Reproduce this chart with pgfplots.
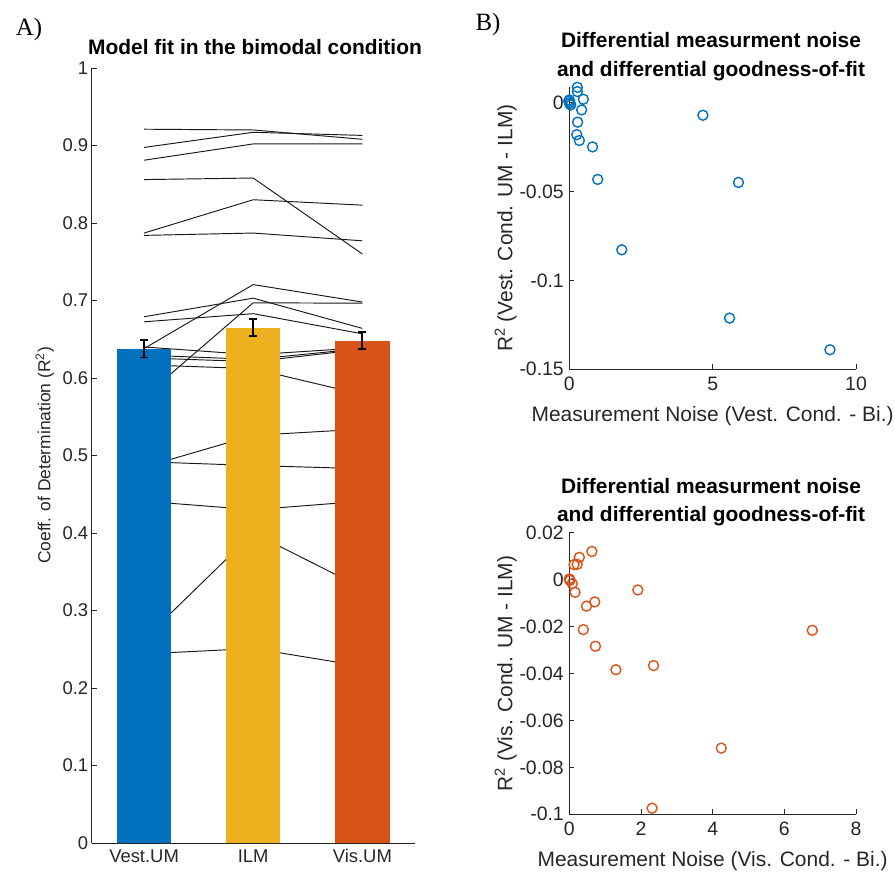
\documentclass[border=0pt]{standalone}
\usepackage{fontspec}
\setmainfont{Liberation Sans}
\newfontfamily\panelfont{Liberation Serif}
\usepackage{pgfplots}
\pgfplotsset{compat=1.18}

\definecolor{mblue}{rgb}{0,0.447,0.741}
\definecolor{myellow}{rgb}{0.929,0.694,0.125}
\definecolor{morange}{rgb}{0.85,0.325,0.098}
\definecolor{axgray}{rgb}{0.15,0.15,0.15}

\pgfplotsset{
  mlab/.style={
    scale only axis, anchor=south west,
    axis x line*=bottom, axis y line*=left,
    axis line style={axgray, line width=0.7bp},
    tick style={axgray, line width=0.7bp},
    tick align=inside, major tick length=5bp,
    label style={text=axgray},
  },
  scat/.style={mlab, clip=false,
    tick label style={font=\fontsize{19.5}{21}\selectfont, text=axgray},
    xticklabel style={yshift=-4bp},
    yticklabel style={xshift=-2bp},
    xlabel style={font=\fontsize{21}{23}\selectfont, at={(axis description cs:0.5,-0.165)}, anchor=center},
    ylabel style={font=\fontsize{21}{23}\selectfont, at={(axis description cs:-0.222,0.5)}, anchor=center},
  },
  subj/.style={black!90, line width=0.95bp, mark=none, forget plot},
}

\begin{document}
\begin{tikzpicture}[x=1bp,y=1bp]
\path[use as bounding box] (0,0) rectangle (895,872);

% ---------- A) bar chart with single-subject lines
\begin{axis}[mlab,
  at={(91.7bp,29bp)}, width=323bp, height=775bp,
  xmin=0.52, xmax=3.48, ymin=0, ymax=1,
  xtick={1,2,3}, xticklabels={Vest.UM,ILM,Vis.UM},
  xtick style={draw=none},
  ytick={0,0.1,0.2,0.3,0.4,0.5,0.6,0.7,0.8,0.9,1},
  yticklabels={0,0.1,0.2,0.3,0.4,0.5,0.6,0.7,0.8,0.9,1},
  tick label style={font=\fontsize{18.5}{20}\selectfont, text=axgray},
  xticklabel style={yshift=-3bp},
  ylabel={Coeff. of Determination (R\textsuperscript{2})},
  ylabel style={font=\fontsize{17.5}{19}\selectfont, at={(axis description cs:-0.145,0.5)}, anchor=center},
]
% subjects (drawn first, bars cover them)
\addplot[subj] coordinates {(1,0.921)(2,0.920)(3,0.908)};
\addplot[subj] coordinates {(1,0.8975)(2,0.917)(3,0.913)};
\addplot[subj] coordinates {(1,0.881)(2,0.902)(3,0.902)};
\addplot[subj] coordinates {(1,0.856)(2,0.858)(3,0.760)};
\addplot[subj] coordinates {(1,0.787)(2,0.830)(3,0.823)};
\addplot[subj] coordinates {(1,0.784)(2,0.787)(3,0.777)};
\addplot[subj] coordinates {(1,0.679)(2,0.703)(3,0.664)};
\addplot[subj] coordinates {(1,0.6725)(2,0.683)(3,0.657)};
\addplot[subj] coordinates {(1,0.638)(2,0.7205)(3,0.698)};
\addplot[subj] coordinates {(1,0.5755)(2,0.697)(3,0.6965)};
\addplot[subj] coordinates {(1,0.640)(2,0.630)(3,0.639)};
\addplot[subj] coordinates {(1,0.6295)(2,0.624)(3,0.638)};
\addplot[subj] coordinates {(1,0.626)(2,0.621)(3,0.637)};
\addplot[subj] coordinates {(1,0.617)(2,0.612)(3,0.5785)};
\addplot[subj] coordinates {(1,0.485)(2,0.526)(3,0.534)};
\addplot[subj] coordinates {(1,0.492)(2,0.487)(3,0.483)};
\addplot[subj] coordinates {(1,0.441)(2,0.430)(3,0.441)};
\addplot[subj] coordinates {(1,0.263)(2,0.400)(3,0.329)};
\addplot[subj] coordinates {(1,0.244)(2,0.251)(3,0.228)};
% group means
\addplot[ybar, bar width=0.5, fill=mblue, draw=none] coordinates {(1,0.6375)};
\addplot[ybar, bar width=0.5, fill=myellow, draw=none] coordinates {(2,0.665)};
\addplot[ybar, bar width=0.5, fill=morange, draw=none] coordinates {(3,0.648)};
\addplot[draw=none, mark=none, forget plot,
  error bars/.cd, y dir=both, y explicit,
  error bar style={draw=black, solid, line width=1.8bp},
  error mark options={rotate=90, draw=black, mark size=4bp, line width=1.8bp}]
  coordinates {(1,0.6375) +- (0,0.011) (2,0.665) +- (0,0.0113) (3,0.648) +- (0,0.011)};
\end{axis}

% ---------- B) top scatter
\begin{axis}[scat,
  at={(569.3bp,502.7bp)}, width=286.7bp, height=282.3bp,
  xmin=0, xmax=10, ymin=-0.15, ymax=0.0088,
  xtick={0,5,10}, xticklabels={0,5,10},
  ytick={-0.15,-0.1,-0.05,0}, yticklabels={-0.15,-0.1,-0.05,0},
  xlabel={Measurement Noise (Vest. Cond. - Bi.)},
  ylabel={R\textsuperscript{2} (Vest. Cond. UM - ILM)},
]
\addplot[only marks, mark=o, mark size=5bp, mblue, mark options={line width=1.4bp}] coordinates {
  (0.28,0.0086)(0.28,0.0062)(0.49,0.0019)(0,0.0015)(0.02,0)(0.05,-0.0013)
  (-0.02,0.0008)(0.01,-0.0005)(0.43,-0.0041)(0.29,-0.011)(0.26,-0.018)
  (0.35,-0.0213)(0.81,-0.0249)(0.99,-0.0432)(1.83,-0.0828)(4.66,-0.0071)
  (5.90,-0.0449)(5.59,-0.1212)(9.09,-0.139)
};
\end{axis}

% ---------- B) bottom scatter
\begin{axis}[scat,
  at={(569.3bp,57.7bp)}, width=286.7bp, height=281.6bp,
  xmin=0, xmax=8, ymin=-0.1, ymax=0.02,
  xtick={0,2,4,6,8}, xticklabels={0,2,4,6,8},
  ytick={-0.1,-0.08,-0.06,-0.04,-0.02,0,0.02},
  yticklabels={-0.1,-0.08,-0.06,-0.04,-0.02,0,0.02},
  xlabel={Measurement Noise (Vis. Cond. - Bi.)},
  ylabel={R\textsuperscript{2} (Vis. Cond. UM - ILM)},
]
\addplot[only marks, mark=o, mark size=5bp, morange, mark options={line width=1.4bp}] coordinates {
  (0,0.0003)(0.02,-0.0003)(0.01,0.0)(0.08,-0.0017)(0.16,-0.0054)(0.13,0.0064)
  (0.22,0.0065)(0.28,0.0095)(0.63,0.012)(0.48,-0.0113)(0.71,-0.0095)
  (0.39,-0.0213)(0.73,-0.0284)(1.30,-0.0384)(1.91,-0.0044)(2.35,-0.0366)
  (4.24,-0.0718)(2.31,-0.0974)(6.78,-0.0216)
};
\end{axis}

% titles and panel letters
\node[font=\bfseries\fontsize{21}{22}\selectfont] at (255,825) {Model fit in the bimodal condition};
\node[font=\bfseries\fontsize{21}{28.5}\selectfont, align=center] at (711,815.3)
  {Differential measurment noise\\and differential goodness-of-fit};
\node[font=\bfseries\fontsize{21}{28.5}\selectfont, align=center] at (711,370)
  {Differential measurment noise\\and differential goodness-of-fit};
\node[font=\panelfont\fontsize{25}{27}\selectfont] at (29,842) {A)};
\node[font=\panelfont\fontsize{25}{27}\selectfont] at (488,847) {B)};
\end{tikzpicture}
\end{document}
